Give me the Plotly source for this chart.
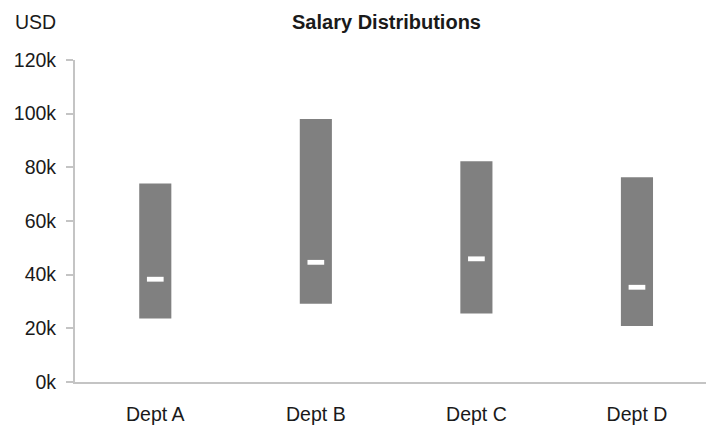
import plotly.graph_objects as go

# Salary ranges per department (USD)
departments = ["Dept A", "Dept B", "Dept C", "Dept D"]
salary_min = [23700, 29200, 25500, 20900]
salary_max = [74000, 98000, 82300, 76300]
salary_median = [38300, 44600, 45900, 35300]

tick_vals = [0, 20000, 40000, 60000, 80000, 100000, 120000]
tick_text = ["0k", "20k", "40k", "60k", "80k", "100k", "120k"]

FONT = "Liberation Sans, Arial, sans-serif"
median_half_height = 900  # half thickness of the median marker, in USD

fig = go.Figure()

# Floating range bars: from minimum to maximum salary
fig.add_trace(go.Bar(
    x=departments,
    base=salary_min,
    y=[hi - lo for lo, hi in zip(salary_min, salary_max)],
    width=0.2,
    marker=dict(color="#808080", line=dict(width=0)),
    hoverinfo="skip",
))

# Median marker: short white bar centred on the median
fig.add_trace(go.Bar(
    x=departments,
    base=[m - median_half_height for m in salary_median],
    y=[2 * median_half_height] * len(salary_median),
    width=0.104,
    marker=dict(color="white", line=dict(width=0)),
    hoverinfo="skip",
))

fig.update_layout(
    width=706,
    height=427,
    margin=dict(l=75, r=0, t=60, b=45),
    barmode="overlay",
    showlegend=False,
    plot_bgcolor="white",
    paper_bgcolor="white",
    font=dict(family=FONT, size=19.5, color="#1a1a1a"),
    title=dict(
        text="<b>Salary Distributions</b>",
        x=386.5 / 706, xanchor="center",
        y=1 - 22 / 427, yanchor="middle",
        font=dict(family=FONT, size=20, color="#1a1a1a"),
    ),
    xaxis=dict(
        type="category",
        range=[-0.5, 3.43],
        showgrid=False,
        zeroline=False,
        showline=True,
        linecolor="#c4c4c4",
        linewidth=2,
        ticks="",
        ticklabelstandoff=14,
        tickfont=dict(family=FONT, size=19.5, color="#1a1a1a"),
    ),
    yaxis=dict(
        range=[0, 120000],
        tickvals=tick_vals,
        ticktext=tick_text,
        showgrid=False,
        zeroline=False,
        showline=True,
        linecolor="#c4c4c4",
        linewidth=2,
        ticks="outside",
        ticklen=7,
        tickwidth=2,
        tickcolor="#c4c4c4",
        ticklabelstandoff=6,
        tickfont=dict(family=FONT, size=19.5, color="#1a1a1a"),
    ),
    annotations=[dict(
        text="USD",
        xref="paper", yref="paper",
        x=-62 / 631, xanchor="left",
        y=1 + 38 / 322, yanchor="middle",
        showarrow=False,
        font=dict(family=FONT, size=19.5, color="#1a1a1a"),
    )],
)

fig.write_html("out.html")
